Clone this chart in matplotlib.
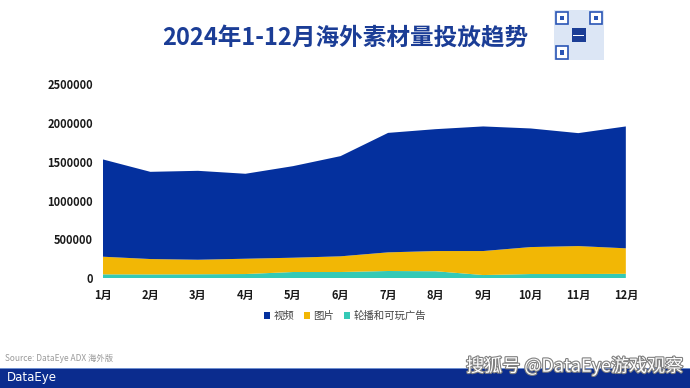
import matplotlib
matplotlib.use("Agg")
import matplotlib.pyplot as plt
from matplotlib.patches import Rectangle
import matplotlib.patheffects as pe
import numpy as np

plt.rcParams['font.family'] = ['Noto Sans CJK SC', 'DejaVu Sans']

months = ['1月', '2月', '3月', '4月', '5月', '6月', '7月', '8月', '9月', '10月', '11月', '12月']
series_names = ['视频', '图片', '轮播和可玩广告']
video = [1252000, 1122000, 1144000, 1093000, 1178000, 1289000, 1537000, 1568000, 1603000, 1526000, 1453000, 1568000]
image = [227000, 198000, 187000, 197000, 184000, 202000, 240000, 260000, 309000, 347000, 360000, 328000]
carousel = [51000, 50000, 52000, 55000, 81000, 81000, 94000, 91000, 42000, 55000, 55000, 58000]
yticks = [0, 500000, 1000000, 1500000, 2000000, 2500000]

c_video = '#04309E'
c_image = '#F2B705'
c_carousel = '#34C9B6'
title_color = '#1B3D96'

fig = plt.figure(figsize=(6.9, 3.88), dpi=100)
fig.patch.set_facecolor('white')

ax = fig.add_axes([0.149, 0.2827, 0.758, 0.5008])
x = np.arange(len(months))
polys = ax.stackplot(x, carousel, image, video, colors=[c_carousel, c_image, c_video],
                     labels=[series_names[2], series_names[1], series_names[0]], linewidth=0)
ax.set_xlim(0, len(months) - 1)
ax.set_ylim(0, 2500000)
ax.set_xticks(x)
ax.set_xticklabels(months)
ax.set_yticks(yticks)
ax.set_yticklabels([str(v) for v in yticks])
for s in ax.spines.values():
    s.set_visible(False)
ax.tick_params(axis='both', length=0, labelsize=8, labelcolor='#1a1a1a')
ax.tick_params(axis='y', pad=7)
ax.tick_params(axis='x', pad=8)
for lbl in ax.get_xticklabels() + ax.get_yticklabels():
    lbl.set_fontweight('bold')

# legend (order: 视频, 图片, 轮播和可玩广告)
handles = [polys[2], polys[1], polys[0]]
leg = fig.legend(handles, series_names,
                 loc='center', bbox_to_anchor=(0.5, 0.185), ncol=3, frameon=False,
                 fontsize=7.5, handlelength=0.55, handleheight=0.55, handletextpad=0.3,
                 columnspacing=1.0)
for t in leg.get_texts():
    t.set_color('#444444')

# title
fig.text(0.5, 0.9, '2024年1-12月海外素材量投放趋势', ha='center', va='center',
         fontsize=17, fontweight='bold', color=title_color)

# QR-code like decoration
qr = fig.add_axes([0.803, 0.845, 0.072, 0.128])
qr.set_xlim(0, 10); qr.set_ylim(0, 10); qr.axis('off')
qr.add_patch(Rectangle((0, 0), 10, 10, facecolor='#DCE6F5', edgecolor='none'))
for (px, py) in [(0.3, 7.2), (7.2, 7.2), (0.3, 0.3)]:
    qr.add_patch(Rectangle((px, py), 2.5, 2.5, facecolor='white', edgecolor='#2A55B5', linewidth=1.2))
    qr.add_patch(Rectangle((px + 0.8, py + 0.8), 0.9, 0.9, facecolor='#2A55B5', edgecolor='none'))
qr.add_patch(Rectangle((3.6, 3.6), 2.8, 2.8, facecolor='#1B3D96', edgecolor='none'))
qr.add_patch(Rectangle((3.9, 4.85), 2.2, 0.3, facecolor='white', edgecolor='none'))

# source
fig.text(0.007, 0.077, 'Source: DataEye ADX 海外版', fontsize=6, color='#999999',
         ha='left', va='center')

# footer bar
foot = fig.add_axes([0, 0, 1, 0.052])
foot.set_xlim(0, 1); foot.set_ylim(0, 1); foot.axis('off')
foot.add_patch(Rectangle((0, 0), 1, 1, facecolor='#0B2C8E', edgecolor='none'))
foot.add_patch(Rectangle((0, 0.92), 1, 0.08, facecolor='#6F8FD0', edgecolor='none'))
fig.text(0.01, 0.026, 'DataEye', fontsize=8.5, color='white', ha='left', va='center',
         family='DejaVu Sans')
fig.text(0.99, 0.057, '搜狐号 @DataEye游戏观察', fontsize=13, color='white', ha='right',
         va='center', zorder=10,
         path_effects=[pe.withStroke(linewidth=1.6, foreground='#808080')])

fig.savefig('out.png', dpi=100)
